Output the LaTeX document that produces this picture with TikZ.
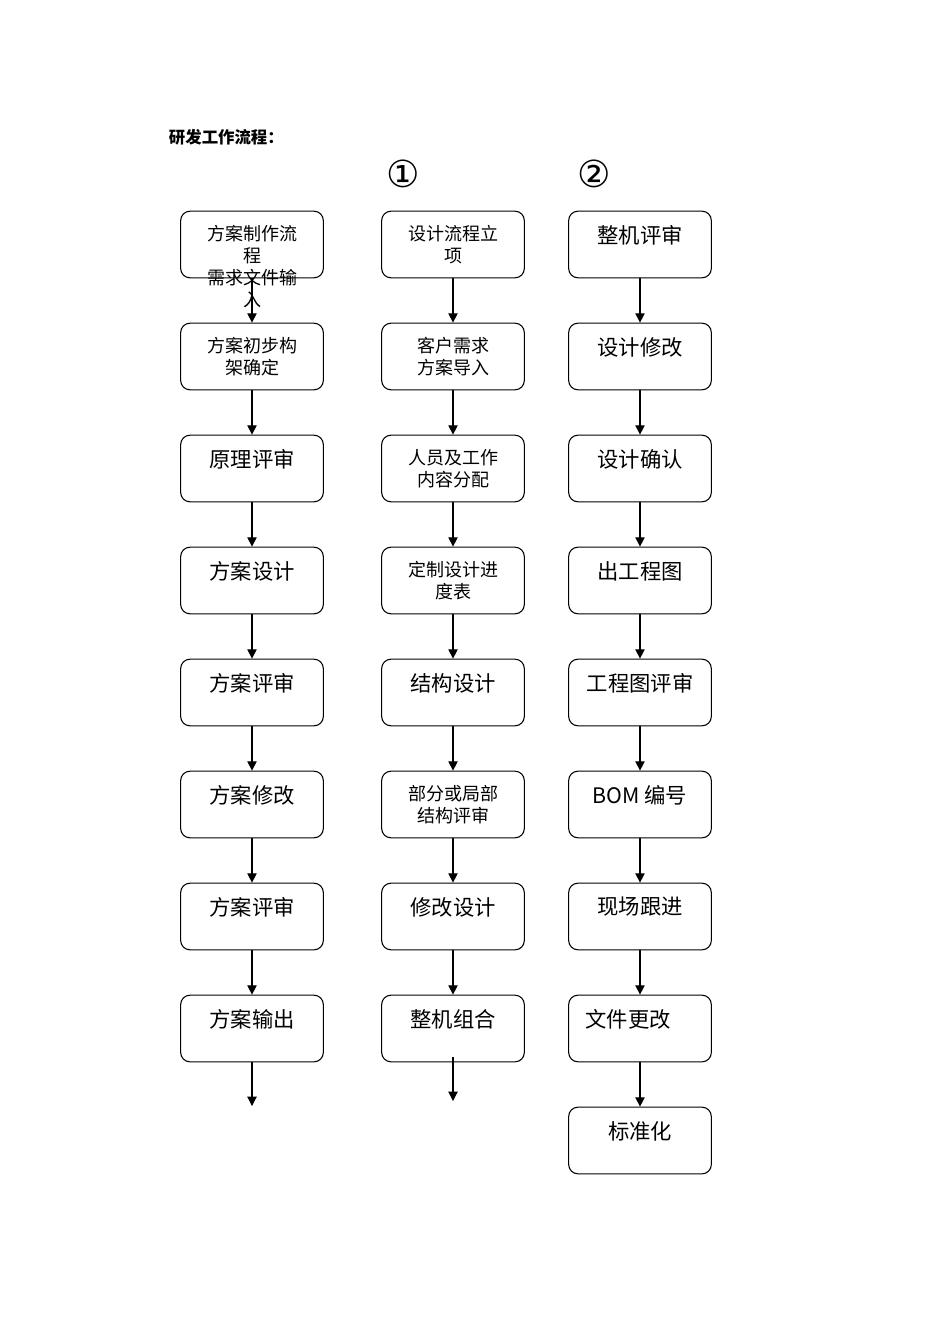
\documentclass[tikz,border=0pt]{standalone}
\usepackage{fontspec}
\newfontfamily\cjk{Noto Sans CJK SC}
\newfontfamily\symfont{DejaVu Sans}
\usetikzlibrary{positioning,arrows.meta}

\begin{document}
\begin{tikzpicture}[x=0.75pt,y=-0.75pt,>={Triangle[length=7pt,width=7pt]},line width=0.8pt,
    box/.style={draw,rounded corners=7pt,minimum width=107pt,minimum height=50pt,inner sep=0pt},
    big/.style={font=\cjk\fontsize{16}{20}\selectfont,inner sep=0pt,align=center},
    small/.style={font=\cjk\fontsize{13.5}{16.5}\selectfont,inner sep=0pt,align=center}]
    \useasboundingbox (0,0) rectangle (950,1344);

    \node[anchor=west,font=\cjk\bfseries\fontsize{12.3}{15}\selectfont] (title) at (164,137) {研发工作流程：};
    \node[font=\symfont\fontsize{28}{30}\selectfont] (one) at (403,174) {①};
    \node[font=\symfont\fontsize{28}{30}\selectfont] (two) at (594,174) {②};

    % column 1
    \node[box] (fa1) at (252,244.5) {};
    \node[box] (fa2) at (252,356.5) {};
    \node[box] (fa3) at (252,468.5) {};
    \node[box] (fa4) at (252,580.5) {};
    \node[box] (fa5) at (252,692.5) {};
    \node[box] (fa6) at (252,804.5) {};
    \node[box] (fa7) at (252,916.5) {};
    \node[box] (fa8) at (252,1028.5) {};
    \coordinate (fa9) at (252,1106);
    \node[small,below=10.5pt of fa1.north] (tfa1) {方案制作流\\程\\需求文件输\\入};
    \node[small,below=10.5pt of fa2.north] (tfa2) {方案初步构\\架确定};
    \node[big,below=10.5pt of fa3.north] (tfa3) {原理评审};
    \node[big,below=10.5pt of fa4.north] (tfa4) {方案设计};
    \node[big,below=10.5pt of fa5.north] (tfa5) {方案评审};
    \node[big,below=10.5pt of fa6.north] (tfa6) {方案修改};
    \node[big,below=10.5pt of fa7.north] (tfa7) {方案评审};
    \node[big,below=10.5pt of fa8.north] (tfa8) {方案输出};

    % column 2
    \node[box] (sj1) at (453,244.5) {};
    \node[box] (sj2) at (453,356.5) {};
    \node[box] (sj3) at (453,468.5) {};
    \node[box] (sj4) at (453,580.5) {};
    \node[box] (sj5) at (453,692.5) {};
    \node[box] (sj6) at (453,804.5) {};
    \node[box] (sj7) at (453,916.5) {};
    \node[box] (sj8) at (453,1028.5) {};
    \coordinate (sj8a) at (453,1057);
    \coordinate (sj9) at (453,1101);
    \node[small,below=10.5pt of sj1.north] (tsj1) {设计流程立\\项};
    \node[small,below=10.5pt of sj2.north] (tsj2) {客户需求\\方案导入};
    \node[small,below=10.5pt of sj3.north] (tsj3) {人员及工作\\内容分配};
    \node[small,below=10.5pt of sj4.north] (tsj4) {定制设计进\\度表};
    \node[big,below=10.5pt of sj5.north] (tsj5) {结构设计};
    \node[small,below=10.5pt of sj6.north] (tsj6) {部分或局部\\结构评审};
    \node[big,below=10.5pt of sj7.north] (tsj7) {修改设计};
    \node[big,below=10.5pt of sj8.north] (tsj8) {整机组合};

    % column 3
    \node[box] (zj1) at (640,244.5) {};
    \node[box] (zj2) at (640,356.5) {};
    \node[box] (zj3) at (640,468.5) {};
    \node[box] (zj4) at (640,580.5) {};
    \node[box] (zj5) at (640,692.5) {};
    \node[box] (zj6) at (640,804.5) {};
    \node[box] (zj7) at (640,916.5) {};
    \node[box] (zj8) at (640,1028.5) {};
    \node[box] (zj9) at (640,1140.5) {};
    \node[big,below=10.5pt of zj1.north] (tzj1) {整机评审};
    \node[big,below=10.5pt of zj2.north] (tzj2) {设计修改};
    \node[big,below=10.5pt of zj3.north] (tzj3) {设计确认};
    \node[big,below=10.5pt of zj4.north] (tzj4) {出工程图};
    \node[big,below=10.5pt of zj5.north] (tzj5) {工程图评审};
    \node[big,below=10.5pt of zj6.north] (tzj6) {BOM 编号};
    \node[big,below=10.5pt of zj7.north] (tzj7) {现场跟进};
    \node[big,below=10.5pt of zj8.north,xshift=-9pt] (tzj8) {文件更改};
    \node[big,below=10.5pt of zj9.north] (tzj9) {标准化};

    \path[->]
        (fa1) edge (fa2)
        (fa2) edge (fa3)
        (fa3) edge (fa4)
        (fa4) edge (fa5)
        (fa5) edge (fa6)
        (fa6) edge (fa7)
        (fa7) edge (fa8)
        (fa8) edge (fa9)
        (sj1) edge (sj2)
        (sj2) edge (sj3)
        (sj3) edge (sj4)
        (sj4) edge (sj5)
        (sj5) edge (sj6)
        (sj6) edge (sj7)
        (sj7) edge (sj8)
        (sj8a) edge (sj9)
        (zj1) edge (zj2)
        (zj2) edge (zj3)
        (zj3) edge (zj4)
        (zj4) edge (zj5)
        (zj5) edge (zj6)
        (zj6) edge (zj7)
        (zj7) edge (zj8)
        (zj8) edge (zj9)
        ;
\end{tikzpicture}
\end{document}
